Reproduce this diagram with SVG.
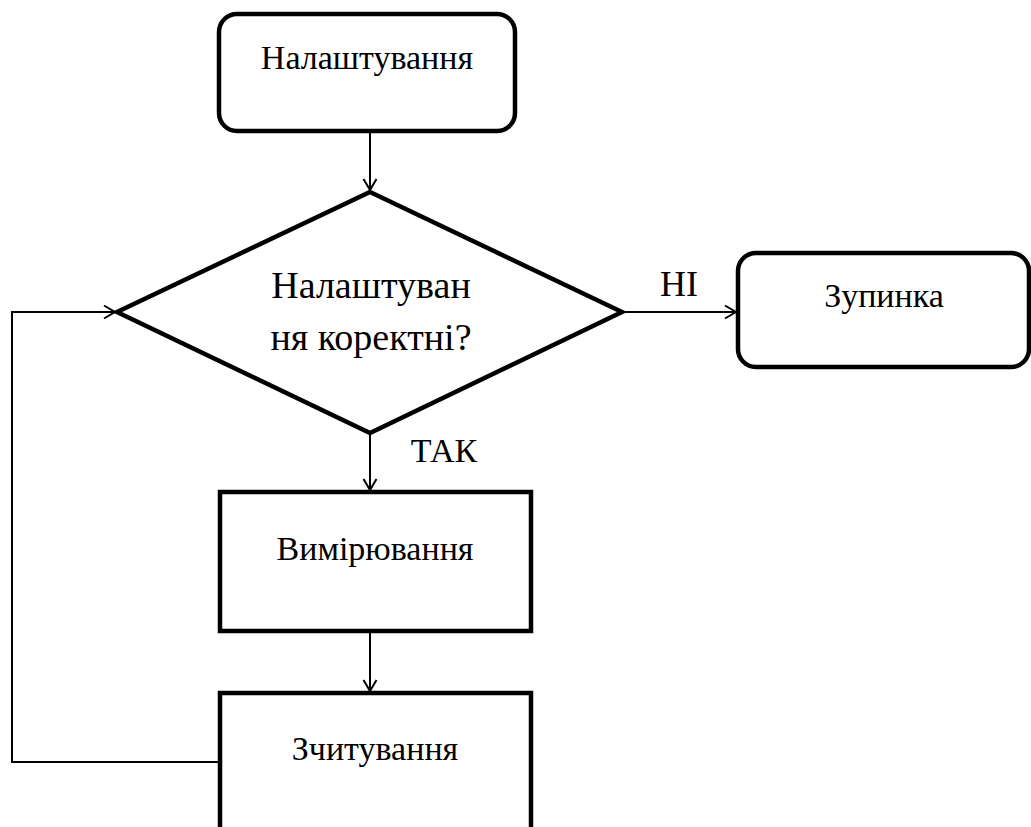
<svg xmlns="http://www.w3.org/2000/svg" width="1031" height="827" viewBox="0 0 1031 827">
<style>
.node{fill:#fff;stroke:#000;stroke-width:4.5}
.t{font-family:"Liberation Serif","DejaVu Serif",serif;fill:#000;text-anchor:middle}
.c{fill:none;stroke:#000;stroke-width:2}
</style>
<defs>
<marker id="arr" markerWidth="16" markerHeight="16" refX="12" refY="8" orient="auto" markerUnits="userSpaceOnUse">
<path d="M1,1.5 L12,8 L1,14.5" fill="none" stroke="#000" stroke-width="2"/>
</marker>
</defs>
<rect width="1031" height="827" fill="#fff"/>
<g id="connectors">
<line class="c" x1="370" y1="132" x2="370" y2="190" marker-end="url(#arr)"/>
<line class="c" x1="622" y1="312" x2="736" y2="312" marker-end="url(#arr)"/>
<line class="c" x1="370" y1="434" x2="370" y2="490" marker-end="url(#arr)"/>
<line class="c" x1="370" y1="632" x2="370" y2="691" marker-end="url(#arr)"/>
<polyline class="c" points="220,762 12,762 12,312 115,312" marker-end="url(#arr)"/>
<text class="t" x="679" y="296" font-size="36">НІ</text>
<text class="t" x="444" y="462" font-size="34">ТАК</text>
</g>
<g id="n1">
<rect class="node" x="219" y="14" width="296" height="117" rx="18"/>
<text class="t" x="367" y="69" font-size="34">Налаштування</text>
</g>
<g id="n2">
<polygon class="node" points="370,192 622,312 370,433 117,312"/>
<text class="t" x="371" y="298" font-size="38">Налаштуван</text>
<text class="t" x="371" y="350" font-size="38">ня коректні?</text>
</g>
<g id="n3">
<rect class="node" x="738" y="253" width="291" height="114" rx="18"/>
<text class="t" x="884" y="307" font-size="34">Зупинка</text>
</g>
<g id="n4">
<rect class="node" x="220" y="492" width="311" height="139"/>
<text class="t" x="375" y="560" font-size="34">Вимірювання</text>
</g>
<g id="n5">
<rect class="node" x="220" y="693" width="311" height="145"/>
<text class="t" x="375" y="760" font-size="34">Зчитування</text>
</g>
</svg>
